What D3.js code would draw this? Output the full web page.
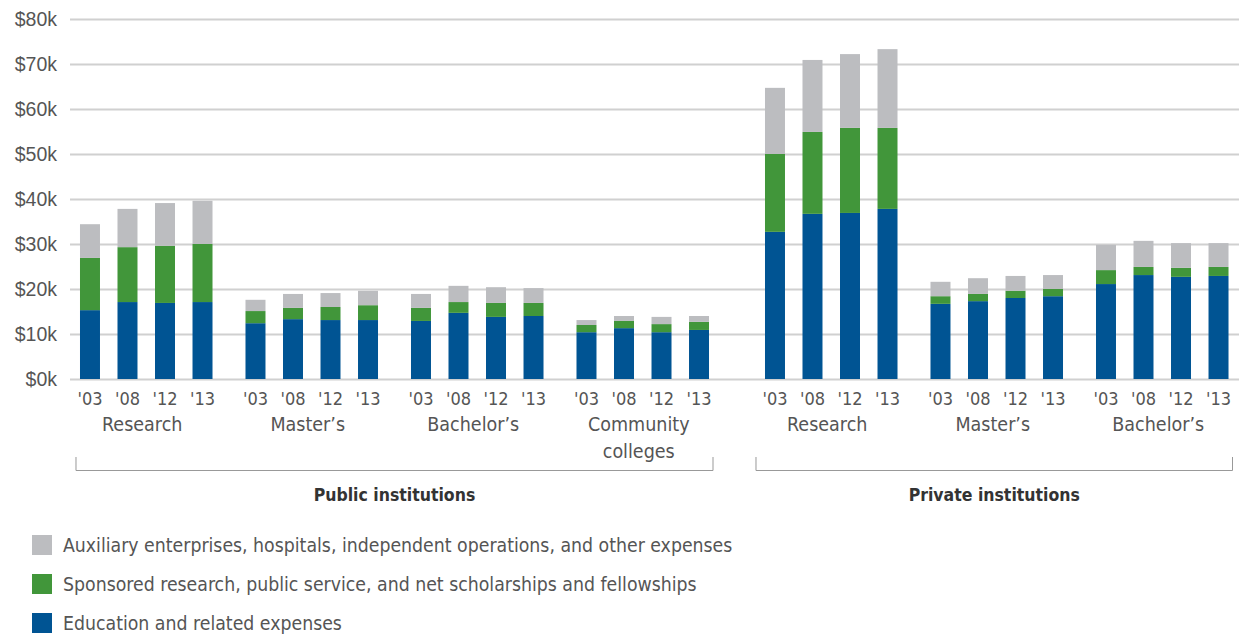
<!DOCTYPE html>
<html>
<head>
<meta charset="utf-8">
<script src="https://cdn.jsdelivr.net/npm/d3@7"></script>
<style>
  body { margin: 0; background: #fff; }
  .narrow { font-family: "Liberation Sans Narrow", "DejaVu Sans Condensed", "Roboto Condensed", sans-serif; font-stretch: condensed; }
  text { fill: #555; }
</style>
</head>
<body>
<div id="chart-area"></div>
<script>
// values in $ thousands
var years = ["'03", "'08", "'12", "'13"];
var publicTypes = ['Research', "Master\u2019s", "Bachelor\u2019s", 'Community colleges'];
var privateTypes = ['Research', "Master\u2019s", "Bachelor\u2019s"];

// one row per group (public first, then private), one value per year
var education = [
    [15.3, 17.1, 16.9, 17.1],
    [12.4, 13.3, 13.1, 13.1],
    [12.9, 14.7, 13.8, 14.0],
    [10.4, 11.3, 10.4, 10.9],
    [32.7, 36.7, 36.9, 37.8],
    [16.7, 17.3, 18.0, 18.4],
    [21.1, 23.1, 22.7, 22.9]
];
var sponsored = [
    [11.6, 12.2, 12.7, 12.9],
    [2.7, 2.5, 2.9, 3.3],
    [2.9, 2.4, 3.1, 2.9],
    [1.6, 1.6, 1.8, 1.8],
    [17.3, 18.2, 18.9, 18.0],
    [1.7, 1.6, 1.6, 1.6],
    [3.1, 1.8, 2.0, 2.0]
];
var auxiliary = [
    [7.5, 8.5, 9.5, 9.6],
    [2.5, 3.1, 3.1, 3.2],
    [3.1, 3.6, 3.5, 3.3],
    [1.1, 1.1, 1.6, 1.3],
    [14.7, 16.0, 16.4, 17.5],
    [3.2, 3.5, 3.3, 3.1],
    [5.6, 5.8, 5.5, 5.3]
];
var yTicks = [0, 10, 20, 30, 40, 50, 60, 70, 80];

var seriesKeys = ['education', 'sponsored', 'auxiliary'];
var colors = { education: '#005493', sponsored: '#41963a', auxiliary: '#bcbdc0' };
var legendLabels = [
    ['auxiliary', 'Auxiliary enterprises, hospitals, independent operations, and other expenses'],
    ['sponsored', 'Sponsored research, public service, and net scholarships and fellowships'],
    ['education', 'Education and related expenses']
];

var width = 1239, height = 635;

var svg = d3.select('#chart-area')
    .append('svg')
        .attr('width', width)
        .attr('height', height);

// build rows
var groups = publicTypes.map((t) => { return { sector: 'Public', type: t } })
    .concat(privateTypes.map((t) => { return { sector: 'Private', type: t } }));
var rows = [];
groups.forEach((g, i) => {
    years.forEach((yr, j) => {
        rows.push({
            group: i, sector: g.sector, type: g.type, year: yr,
            education: education[i][j],
            sponsored: sponsored[i][j],
            auxiliary: auxiliary[i][j]
        });
    });
});

// scales
var y = d3.scaleLinear()
    .domain([0, 80])
    .range([379, 19]);

var xPublic = d3.scaleBand()
    .domain(publicTypes)
    .range([71.25, 717.75])
    .paddingInner(0.0937)
    .paddingOuter(0);

var xPrivate = d3.scaleBand()
    .domain(privateTypes)
    .range([756.25, 1237.25])
    .paddingInner(0.0937)
    .paddingOuter(0);

var xYear = d3.scaleBand()
    .domain(years)
    .range([0, xPublic.bandwidth()])
    .paddingInner(0.467)
    .paddingOuter(0.233);

function groupX(d) {
    return d.sector === 'Public' ? xPublic(d.type) : xPrivate(d.type);
}
function barX(d) { return groupX(d) + xYear(d.year) }

// gridlines + y axis
var yAxisCall = d3.axisLeft(y)
    .tickValues(yTicks)
    .tickSize(-(width - 70))
    .tickPadding(13)
    .tickFormat((d) => { return '$' + d + 'k' });
var yAxis = svg.append('g')
    .attr('class', 'left axis')
    .attr('transform', 'translate(70, 0)')
    .call(yAxisCall);
yAxis.select('.domain').remove();
yAxis.selectAll('line')
    .attr('stroke', '#d0d0d0')
    .attr('stroke-width', 2);
yAxis.selectAll('text')
    .attr('font-family', '"Liberation Sans", Arial, sans-serif')
    .attr('font-size', '19.5px')
    .style('fill', '#555');

// stacked bars
var stack = d3.stack().keys(seriesKeys);
var layers = stack(rows);

svg.append('g')
    .selectAll('g')
    .data(layers)
    .enter()
    .append('g')
        .attr('fill', (d) => { return colors[d.key] })
    .selectAll('rect')
    .data((d) => { return d })
    .enter()
    .append('rect')
        .attr('x', (d) => { return barX(d.data) })
        .attr('y', (d) => { return y(d[1]) })
        .attr('width', xYear.bandwidth())
        .attr('height', (d) => { return y(d[0]) - y(d[1]) });

// year labels
svg.append('g')
    .attr('class', 'narrow')
    .selectAll('text')
    .data(rows)
    .enter()
    .append('text')
        .attr('x', (d) => { return barX(d) + xYear.bandwidth() / 2 })
        .attr('y', 405)
        .attr('text-anchor', 'middle')
        .attr('font-size', '18px')
        .text((d) => { return d.year });

// type labels
var typeText = svg.append('g')
    .attr('class', 'narrow')
    .selectAll('text')
    .data(groups)
    .enter()
    .append('text')
        .attr('x', (d) => {
            var sc = d.sector === 'Public' ? xPublic : xPrivate;
            return sc(d.type) + sc.bandwidth() / 2 - 4;
        })
        .attr('y', 431)
        .attr('text-anchor', 'middle')
        .attr('font-size', '19.5px');
typeText.each(function(d) {
    var words = d.type === 'Community colleges' ? ['Community', 'colleges'] : [d.type];
    d3.select(this).selectAll('tspan')
        .data(words)
        .enter()
        .append('tspan')
            .attr('x', d3.select(this).attr('x'))
            .attr('dy', (w, k) => { return k === 0 ? 0 : 27 })
            .text((w) => { return w });
});

// sector brackets
var sectors = [
    { name: 'Public institutions', scale: xPublic, types: publicTypes, pad: 4 },
    { name: 'Private institutions', scale: xPrivate, types: privateTypes, pad: 9 }
];
sectors.forEach((s) => {
    var first = s.scale(s.types[0]) + xYear(years[0]) - s.pad;
    var last = s.scale(s.types[s.types.length - 1]) + xYear(years[years.length - 1]) + xYear.bandwidth() + 4;
    svg.append('path')
        .attr('d', 'M' + first + ',457V470.5H' + last + 'V457')
        .attr('fill', 'none')
        .attr('stroke', '#999')
        .attr('stroke-width', 1);
    svg.append('text')
        .attr('class', 'narrow')
        .attr('x', (first + last) / 2)
        .attr('y', 501)
        .attr('text-anchor', 'middle')
        .attr('font-size', '17.5px')
        .attr('font-weight', 'bold')
        .style('fill', '#333')
        .text(s.name);
});

// legend
var legend = svg.append('g')
    .attr('class', 'narrow')
    .selectAll('g')
    .data(legendLabels)
    .enter()
    .append('g')
        .attr('transform', (d, i) => { return 'translate(32, ' + (535 + i * 39) + ')' });
legend.append('rect')
    .attr('width', 20)
    .attr('height', 20)
    .attr('fill', (d) => { return colors[d[0]] });
legend.append('text')
    .attr('x', 31)
    .attr('y', 17)
    .attr('font-size', '19.3px')
    .text((d) => { return d[1] });
</script>
</body>
</html>
